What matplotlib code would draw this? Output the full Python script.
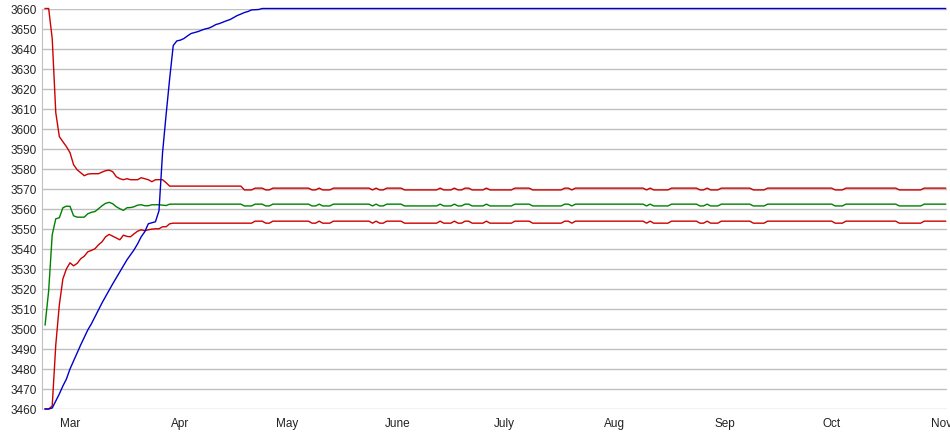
import numpy as np
import pandas as pd
import matplotlib
matplotlib.use("Agg")
import matplotlib.pyplot as plt
import matplotlib.dates as mdates

plt.rcParams['font.family'] = ['Liberation Sans', 'DejaVu Sans']

# daily readings, first one on Feb 22
first_day = "2011-02-22"
last_day = "2011-11-02"
settle_day = "2011-04-19"   # from here on the three middle lines share the same small dips

blue_start = [3460, 3460, 3460.5, 3464, 3467.5, 3471.5, 3475, 3480, 3484, 3488, 3492, 3495.7,
              3499.5, 3502.5, 3506, 3509.5, 3513, 3516.2, 3519.5, 3522.5, 3525.5, 3528.5, 3531.5,
              3534.5, 3537, 3539.5, 3542.5, 3546, 3548.5, 3552.5, 3553, 3553.5, 3559, 3588, 3607,
              3625, 3641.5, 3643.8, 3644.2, 3645, 3646.3, 3647.5, 3648, 3648.5, 3649.2, 3649.8,
              3650.2, 3651, 3652, 3652.5, 3653.2, 3653.9, 3654.5, 3655.5, 3656.5, 3657.2, 3658,
              3658.5, 3659.3, 3659.4, 3659.5, 3660]
blue_level = 3660

red_top_start = [3660, 3660, 3645, 3608, 3596, 3593.5, 3591, 3588, 3582, 3579.5, 3578, 3576.5,
                 3577.3, 3577.5, 3577.5, 3577.5, 3578.3, 3579, 3579.3, 3578.5, 3576, 3575, 3574.5,
                 3575, 3574.5, 3574.5, 3574.5, 3575.5, 3575, 3574.5, 3573.5, 3574.5, 3574.5,
                 3574.5, 3573, 3571.3]
red_top_plateau = 3571.3
red_top_hi, red_top_lo = 3570.3, 3569.4

green_start = [3502, 3519, 3547, 3555, 3555.5, 3560.5, 3561.3, 3561.2, 3556.5, 3555.8, 3555.8,
               3555.8, 3557.5, 3558.2, 3558.6, 3560, 3561.5, 3562.7, 3563.2, 3562.5, 3561, 3560,
               3559.2, 3560.5, 3560.6, 3561, 3561.8, 3562, 3561.5, 3561.5, 3562, 3562, 3562,
               3561.8, 3561.6, 3562.3]
green_plateau = 3562.3
green_hi, green_lo = 3562.3, 3561.4

red_low_start = [3460, 3460, 3461.5, 3492, 3512, 3525, 3530, 3533, 3531.5, 3532.7, 3535, 3536.3,
                 3538.5, 3539.2, 3540, 3542, 3543.5, 3546, 3547.2, 3546.3, 3545.4, 3544.5, 3546.8,
                 3546.2, 3546, 3547.5, 3548.8, 3549.5, 3549, 3549.5, 3549.8, 3550, 3550, 3551,
                 3551, 3552.5, 3552.8]
red_low_plateau = 3552.8
red_low_hi, red_low_lo = 3553.8, 3552.8

dip_ranges = [("2011-04-19", "2011-04-21"), ("2011-04-25", "2011-04-26"),
              ("2011-05-08", "2011-05-09"), ("2011-05-11", "2011-05-13"),
              ("2011-05-25", "2011-05-25"), ("2011-05-27", "2011-05-28"),
              ("2011-06-03", "2011-06-12"), ("2011-06-14", "2011-06-16"),
              ("2011-06-18", "2011-06-19"), ("2011-06-22", "2011-06-25"),
              ("2011-06-27", "2011-07-03"), ("2011-07-09", "2011-07-17"),
              ("2011-07-20", "2011-07-20"), ("2011-08-10", "2011-08-10"),
              ("2011-08-12", "2011-08-16"), ("2011-08-25", "2011-08-26"),
              ("2011-08-28", "2011-08-30"), ("2011-09-09", "2011-09-12"),
              ("2011-10-02", "2011-10-04"), ("2011-10-20", "2011-10-26")]

month_ticks = ["2011-03-01", "2011-04-01", "2011-05-01", "2011-06-01", "2011-07-01",
               "2011-08-01", "2011-09-01", "2011-10-01", "2011-11-01"]
month_labels = ["Mar", "Apr", "May", "June", "July", "Aug", "Sep", "Oct", "Nov"]

# --- build the daily series ---
dates = pd.date_range(first_day, last_day, freq="D")
n = len(dates)
late = dates >= pd.Timestamp(settle_day)
low = np.zeros(n, dtype=bool)
for a, b in dip_ranges:
    low |= (dates >= pd.Timestamp(a)) & (dates <= pd.Timestamp(b))


def series(start, plateau, hi=None, lo=None):
    v = np.full(n, float(plateau))
    v[:len(start)] = start
    if hi is not None:
        v[late] = np.where(low[late], lo, hi)
    return v


blue = series(blue_start, blue_level)
red_top = series(red_top_start, red_top_plateau, red_top_hi, red_top_lo)
green = series(green_start, green_plateau, green_hi, green_lo)
red_low = series(red_low_start, red_low_plateau, red_low_hi, red_low_lo)

# --- plot ---
fig = plt.figure(figsize=(9.5, 4.35), dpi=100)
ax = fig.add_axes([42 / 950, 25 / 435, 905 / 950, 400.5 / 435])

kw = dict(lw=1.0, clip_on=False)
ax.plot(dates, red_top, color="#cc0000", **kw)
ax.plot(dates, red_low, color="#cc0000", **kw)
ax.plot(dates, green, color="#008000", **kw)
ax.plot(dates, blue, color="#0000cc", **kw)

mar1 = mdates.date2num(pd.Timestamp("2011-03-01"))
ax.set_xlim(mar1 - 7.87, mar1 + 246.4)
ax.set_ylim(3460, 3660)
ax.set_yticks(np.arange(3460, 3661, 10))
ax.set_xticks([pd.Timestamp(d) for d in month_ticks])
ax.set_xticklabels(month_labels)

ax.yaxis.grid(True, color="#c0c0c0", lw=1)
ax.set_axisbelow(True)
for s in ["top", "right", "bottom"]:
    ax.spines[s].set_visible(False)
ax.spines["left"].set_color("#c0c0c0")
ax.tick_params(length=0, labelsize=8.5, colors="#222222")
ax.tick_params(axis="y", pad=4)
ax.tick_params(axis="x", pad=6)

fig.savefig("out.png", dpi=100)
